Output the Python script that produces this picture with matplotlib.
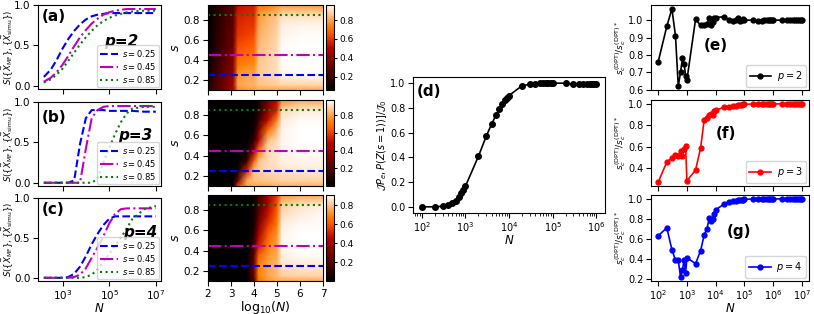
import numpy as np
import matplotlib
matplotlib.use('Agg')
import matplotlib.pyplot as plt

# --- curves (a)-(c): S vs log10(N) for s = 0.25, 0.45, 0.85 ---
logN_curve = [2.2, 2.5, 2.75, 3.0, 3.25, 3.5, 3.75, 4.0, 4.25, 4.5, 4.75, 5.0, 5.25, 5.5, 5.75, 6.0, 6.5, 7.0]
s_values = [0.25, 0.45, 0.85]

S_p2 = [
    [0.11, 0.2, 0.32, 0.46, 0.58, 0.68, 0.76, 0.82, 0.86, 0.88, 0.89, 0.9, 0.9, 0.9, 0.9, 0.9, 0.9, 0.9],
    [0.05, 0.1, 0.17, 0.26, 0.37, 0.49, 0.6, 0.69, 0.77, 0.83, 0.88, 0.91, 0.93, 0.94, 0.95, 0.95, 0.95, 0.95],
    [0.04, 0.08, 0.14, 0.21, 0.31, 0.41, 0.51, 0.6, 0.68, 0.75, 0.8, 0.84, 0.87, 0.89, 0.91, 0.92, 0.93, 0.93],
]
S_p3 = [
    [0, 0, 0, 0, 0, 0.03, 0.48, 0.8, 0.9, 0.9, 0.9, 0.89, 0.89, 0.89, 0.89, 0.89, 0.88, 0.88],
    [0, 0, 0, 0, 0, 0, 0, 0.42, 0.8, 0.9, 0.94, 0.95, 0.95, 0.95, 0.95, 0.95, 0.95, 0.95],
    [0, 0, 0, 0, 0, 0, 0, 0, 0, 0.05, 0.25, 0.43, 0.6, 0.75, 0.86, 0.92, 0.94, 0.94],
]
S_p4 = [
    [0, 0, 0, 0, 0.01, 0.05, 0.14, 0.27, 0.42, 0.55, 0.66, 0.74, 0.77, 0.77, 0.77, 0.77, 0.77, 0.77],
    [0, 0, 0, 0, 0, 0.01, 0.04, 0.12, 0.25, 0.38, 0.52, 0.68, 0.8, 0.86, 0.87, 0.87, 0.87, 0.87],
    [0, 0, 0, 0, 0, 0, 0, 0.01, 0.04, 0.1, 0.2, 0.3, 0.4, 0.5, 0.62, 0.74, 0.86, 0.9],
]

# --- heatmaps: rows = s, columns = log10(N) ---
heat_logN = [2.0, 2.4, 2.8, 3.1, 3.3, 3.7, 4.0, 4.2, 4.6, 5.0, 5.2, 6.0, 7.0]
heat_s = [0.1, 0.15, 0.25, 0.35, 0.45, 0.55, 0.65, 0.75, 0.85, 0.95]

heat_p2 = [
    [0.15, 0.25, 0.35, 0.45, 0.75, 0.78, 0.78, 0.8, 0.8, 0.8, 0.8, 0.8, 0.8],
    [0.12, 0.25, 0.35, 0.45, 0.8, 0.82, 0.82, 0.85, 0.86, 0.87, 0.88, 0.88, 0.88],
    [0.1, 0.22, 0.32, 0.4, 0.78, 0.8, 0.8, 0.87, 0.88, 0.9, 0.94, 0.95, 0.95],
    [0.08, 0.2, 0.3, 0.38, 0.72, 0.75, 0.75, 0.86, 0.88, 0.9, 0.95, 0.96, 0.96],
    [0.07, 0.18, 0.28, 0.35, 0.68, 0.7, 0.72, 0.85, 0.87, 0.9, 0.95, 0.96, 0.96],
    [0.06, 0.17, 0.26, 0.32, 0.64, 0.66, 0.68, 0.84, 0.86, 0.89, 0.95, 0.96, 0.96],
    [0.06, 0.16, 0.25, 0.3, 0.6, 0.62, 0.64, 0.82, 0.85, 0.88, 0.94, 0.95, 0.95],
    [0.06, 0.15, 0.24, 0.28, 0.58, 0.6, 0.6, 0.8, 0.84, 0.87, 0.93, 0.94, 0.94],
    [0.06, 0.15, 0.23, 0.27, 0.56, 0.58, 0.58, 0.78, 0.82, 0.85, 0.9, 0.9, 0.9],
    [0.06, 0.14, 0.22, 0.26, 0.52, 0.55, 0.55, 0.7, 0.72, 0.75, 0.78, 0.78, 0.78],
]
heat_p3 = [
    [0, 0, 0, 0.02, 0.6, 0.78, 0.8, 0.8, 0.8, 0.82, 0.82, 0.82, 0.82],
    [0, 0, 0, 0, 0.3, 0.82, 0.85, 0.85, 0.86, 0.87, 0.88, 0.88, 0.88],
    [0, 0, 0, 0, 0.02, 0.55, 0.85, 0.88, 0.9, 0.9, 0.92, 0.93, 0.93],
    [0, 0, 0, 0, 0, 0.15, 0.65, 0.85, 0.9, 0.92, 0.94, 0.95, 0.95],
    [0, 0, 0, 0, 0, 0.03, 0.35, 0.7, 0.9, 0.92, 0.95, 0.96, 0.96],
    [0, 0, 0, 0, 0, 0.01, 0.12, 0.45, 0.85, 0.9, 0.95, 0.97, 0.97],
    [0, 0, 0, 0, 0, 0, 0.05, 0.3, 0.7, 0.85, 0.95, 0.97, 0.97],
    [0, 0, 0, 0, 0, 0, 0.02, 0.15, 0.5, 0.75, 0.93, 0.96, 0.96],
    [0, 0, 0, 0, 0, 0, 0.01, 0.08, 0.35, 0.55, 0.9, 0.93, 0.93],
    [0, 0, 0, 0, 0, 0, 0.01, 0.05, 0.3, 0.5, 0.75, 0.8, 0.8],
]
heat_p4 = [
    [0, 0, 0, 0, 0, 0.01, 0.2, 0.65, 0.72, 0.75, 0.75, 0.75, 0.75],
    [0, 0, 0, 0, 0, 0.02, 0.25, 0.68, 0.75, 0.78, 0.82, 0.83, 0.83],
    [0, 0, 0, 0, 0, 0.02, 0.25, 0.68, 0.75, 0.78, 0.86, 0.87, 0.87],
    [0, 0, 0, 0, 0, 0.01, 0.2, 0.62, 0.72, 0.76, 0.88, 0.9, 0.9],
    [0, 0, 0, 0, 0, 0.01, 0.15, 0.5, 0.68, 0.74, 0.89, 0.91, 0.91],
    [0, 0, 0, 0, 0, 0, 0.1, 0.4, 0.62, 0.72, 0.89, 0.91, 0.91],
    [0, 0, 0, 0, 0, 0, 0.06, 0.3, 0.55, 0.68, 0.88, 0.9, 0.9],
    [0, 0, 0, 0, 0, 0, 0.04, 0.22, 0.48, 0.64, 0.85, 0.88, 0.9],
    [0, 0, 0, 0, 0, 0, 0.03, 0.18, 0.42, 0.6, 0.82, 0.86, 0.88],
    [0, 0, 0, 0, 0, 0, 0.02, 0.15, 0.38, 0.55, 0.72, 0.75, 0.75],
]

# --- panel (d) ---
N_d = [100, 200, 300, 400, 500, 600, 700, 800, 900,
       1e3, 2e3, 3e3, 4e3, 5e3, 6e3, 7e3, 8e3, 9e3,
       1e4, 2e4, 3e4, 4e4, 5e4, 6e4, 7e4, 8e4, 9e4,
       1e5, 2e5, 3e5, 4e5, 5e5, 6e5, 7e5, 8e5, 9e5, 1e6]
J_d = [0.0, 0.0, 0.005, 0.015, 0.03, 0.05, 0.08, 0.11, 0.135,
       0.165, 0.41, 0.57, 0.67, 0.74, 0.79, 0.83, 0.86, 0.88,
       0.9, 0.98, 0.99, 0.99, 1.0, 1.0, 1.0, 1.0, 1.0,
       1.0, 1.0, 0.99, 0.99, 0.99, 0.99, 0.99, 0.99, 0.99, 0.99]

# --- panels (e)-(g) ---
N_efg = [100, 200, 300, 400, 500, 600, 700, 800, 900,
         1e3, 2e3, 3e3, 4e3, 5e3, 6e3, 7e3, 8e3, 9e3,
         1e4, 2e4, 3e4, 4e4, 5e4, 6e4, 7e4, 8e4, 9e4,
         1e5, 2e5, 3e5, 4e5, 5e5, 6e5, 7e5, 8e5, 9e5,
         1e6, 2e6, 3e6, 4e6, 5e6, 6e6, 7e6, 8e6, 9e6, 1e7]
ratio_p2 = [0.76, 0.965, 1.065, 0.91, 0.62, 0.70, 0.78, 0.75, 0.68,
            0.655, 1.005, 0.97, 0.97, 0.98, 1.01, 0.97, 0.99, 1.01,
            1.015, 1.02, 1.0, 0.995, 1.0, 1.01, 0.995, 1.0, 1.005,
            1.0, 1.0, 0.995, 0.995, 1.0, 1.0, 1.0, 1.0, 1.0,
            1.0, 1.0, 1.0, 1.0, 1.0, 1.0, 1.0, 1.0, 1.0, 1.0]
ratio_p3 = [0.273, 0.46, 0.497, 0.527, 0.515, 0.56, 0.52, 0.58, 0.612,
            0.285, 0.385, 0.59, 0.855, 0.87, 0.9, 0.91, 0.9, 0.93,
            0.94, 0.97, 0.975, 0.98, 0.985, 0.99, 0.99, 0.99, 0.995,
            0.995, 1.0, 1.0, 1.0, 1.0, 1.0, 1.0, 1.0, 1.0,
            1.0, 1.0, 1.0, 1.0, 1.0, 1.0, 1.0, 1.0, 1.0, 1.0]
ratio_p4 = [0.63, 0.71, 0.49, 0.385, 0.385, 0.215, 0.29, 0.385, 0.255,
            0.41, 0.35, 0.48, 0.64, 0.7, 0.81, 0.775, 0.8, 0.85,
            0.89, 0.95, 0.97, 0.975, 0.98, 0.985, 0.99, 0.99, 0.99,
            0.995, 1.0, 1.0, 1.0, 1.0, 1.0, 1.0, 1.0, 1.0,
            1.0, 1.0, 1.0, 1.0, 1.0, 1.0, 1.0, 1.0, 1.0, 1.0]

line_colors = ['b', 'm', 'g']
line_styles = ['--', '-.', ':']

plt.rcParams['font.size'] = 7
plt.rcParams['xtick.major.pad'] = 2
plt.rcParams['ytick.major.pad'] = 2

W, H = 814, 314
fig = plt.figure(figsize=(W / 100, H / 100), dpi=100)


def px_axes(l, t, r, b):
    return fig.add_axes([l / W, 1 - b / H, (r - l) / W, (b - t) / H])


ylab_S = r'$S(\{\vec{X}_{\rm MF}\},\{\vec{X}_{\rm simu}\})$'
ylab_s = r'$s_c^{\rm (DPT)}/s_c^{\rm (DPT)*}$'

# ---- column 1: curves ----
curve_rows = [(5, 89), (102, 186), (198, 281)]
curve_data = [S_p2, S_p3, S_p4]
curve_tags = ['(a)', '(b)', '(c)']
p_tags = ['p=2', 'p=3', 'p=4']
p_pos = [(0.54, 0.56), (0.65, 0.6), (0.69, 0.58)]
tag_y = [0.95, 0.91, 0.95]
N_curve = 10 ** np.array(logN_curve)
for i, (t, b) in enumerate(curve_rows):
    ax = px_axes(38, t, 161, b)
    for j, s in enumerate(s_values):
        ax.plot(N_curve, curve_data[i][j], color=line_colors[j], ls=line_styles[j],
                lw=1.5, label=r'$s=%.2f$' % s)
    ax.set_xscale('log')
    ax.set_xlim(10 ** 1.95, 10 ** 7.22)
    ax.set_ylim(-0.04, 1.0)
    ax.set_xticks([1e3, 1e5, 1e7])
    ax.set_yticks([0.0, 0.5, 1.0])
    ax.tick_params(labelsize=7.5)
    ax.set_ylabel(ylab_S, fontsize=6.2)
    ax.yaxis.set_label_coords(-0.19, 0.5)
    if i < 2:
        ax.set_xticklabels([])
    else:
        ax.set_xlabel(r'$N$', fontsize=8.5, labelpad=0)
    ax.legend(loc='lower right', fontsize=6, handlelength=2.2, borderpad=0.3,
              labelspacing=0.25, handletextpad=0.5, borderaxespad=0.2)
    ax.text(0.03, tag_y[i], curve_tags[i], transform=ax.transAxes, fontsize=11,
            fontweight='bold', va='top', ha='left')
    ax.text(p_pos[i][0], p_pos[i][1], p_tags[i], transform=ax.transAxes, fontsize=11,
            fontweight='bold', style='italic', va='center', ha='left')

# ---- column 2: heatmaps ----
heat_rows = [(5, 90), (100, 186), (195, 281)]
heat_data = [heat_p2, heat_p3, heat_p4]
for i, (t, b) in enumerate(heat_rows):
    ax = px_axes(208, t, 323, b)
    cax = px_axes(326, t, 334, b)
    mesh = ax.pcolormesh(heat_logN, heat_s, np.array(heat_data[i]), cmap='gist_heat',
                         shading='gouraud')
    for j, s in enumerate(s_values):
        ax.axhline(s, color=line_colors[j], ls=line_styles[j], lw=1.5)
    ax.set_xlim(2, 7)
    ax.set_ylim(0.1, 0.95)
    ax.set_xticks([2, 3, 4, 5, 6, 7])
    ax.set_yticks([0.2, 0.4, 0.6, 0.8])
    ax.tick_params(labelsize=7.5)
    ax.set_ylabel(r'$s$', fontsize=9, labelpad=1)
    if i < 2:
        ax.set_xticklabels([])
    else:
        ax.set_xlabel(r'log$_{10}$($N$)', fontsize=9, labelpad=0)
    cb = fig.colorbar(mesh, cax=cax)
    cb.set_ticks([0.2, 0.4, 0.6, 0.8])
    cb.ax.tick_params(labelsize=6.5, length=2.5, pad=1.5)

# ---- panel (d) ----
ax = px_axes(413, 77, 605, 213)
ax.plot(N_d, J_d, 'k-o', ms=4, lw=1.2)
ax.set_xscale('log')
ax.set_xticks([1e2, 1e3, 1e4, 1e5, 1e6])
ax.set_yticks([0.0, 0.2, 0.4, 0.6, 0.8, 1.0])
ax.tick_params(labelsize=7)
ax.set_xlabel(r'$N$', fontsize=8.5, labelpad=0)
ax.set_ylabel(r'$\mathcal{J}P_{e}, P(Z(s=1))]/\mathcal{J}_0$', fontsize=7, labelpad=1)
ax.text(0.02, 0.95, '(d)', transform=ax.transAxes, fontsize=11, fontweight='bold',
        va='top', ha='left')

# ---- column 4: (e)-(g) ----
right_rows = [(5, 90), (100, 186), (195, 281)]
right_data = [ratio_p2, ratio_p3, ratio_p4]
right_colors = ['k', 'r', 'b']
right_tags = ['(e)', '(f)', '(g)']
right_tag_pos = [(0.335, 0.52), (0.41, 0.61), (0.48, 0.58)]
p_list = [2, 3, 4]
for i, (t, b) in enumerate(right_rows):
    ax = px_axes(651, t, 809, b)
    ax.plot(N_efg, right_data[i], '-o', color=right_colors[i], ms=3.5, lw=1.2,
            label=r'$p=%d$' % p_list[i])
    ax.set_xscale('log')
    ax.set_xticks([1e2, 1e3, 1e4, 1e5, 1e6, 1e7])
    ax.tick_params(labelsize=7)
    ax.set_ylabel(ylab_s, fontsize=6.5, labelpad=0)
    if i < 2:
        ax.set_xticklabels([])
    else:
        ax.set_xlabel(r'$N$', fontsize=8.5, labelpad=0)
    if i == 0:
        ax.set_yticks([0.6, 0.7, 0.8, 0.9, 1.0])
    elif i == 1:
        ax.set_yticks([0.4, 0.6, 0.8, 1.0])
    else:
        ax.set_yticks([0.2, 0.4, 0.6, 0.8, 1.0])
    ax.legend(loc='lower right', fontsize=7, handlelength=2.2, borderpad=0.4,
              handletextpad=0.6, borderaxespad=0.3)
    ax.text(right_tag_pos[i][0], right_tag_pos[i][1], right_tags[i],
            transform=ax.transAxes, fontsize=11, fontweight='bold',
            va='center', ha='left')

fig.savefig('out.png', dpi=100)
